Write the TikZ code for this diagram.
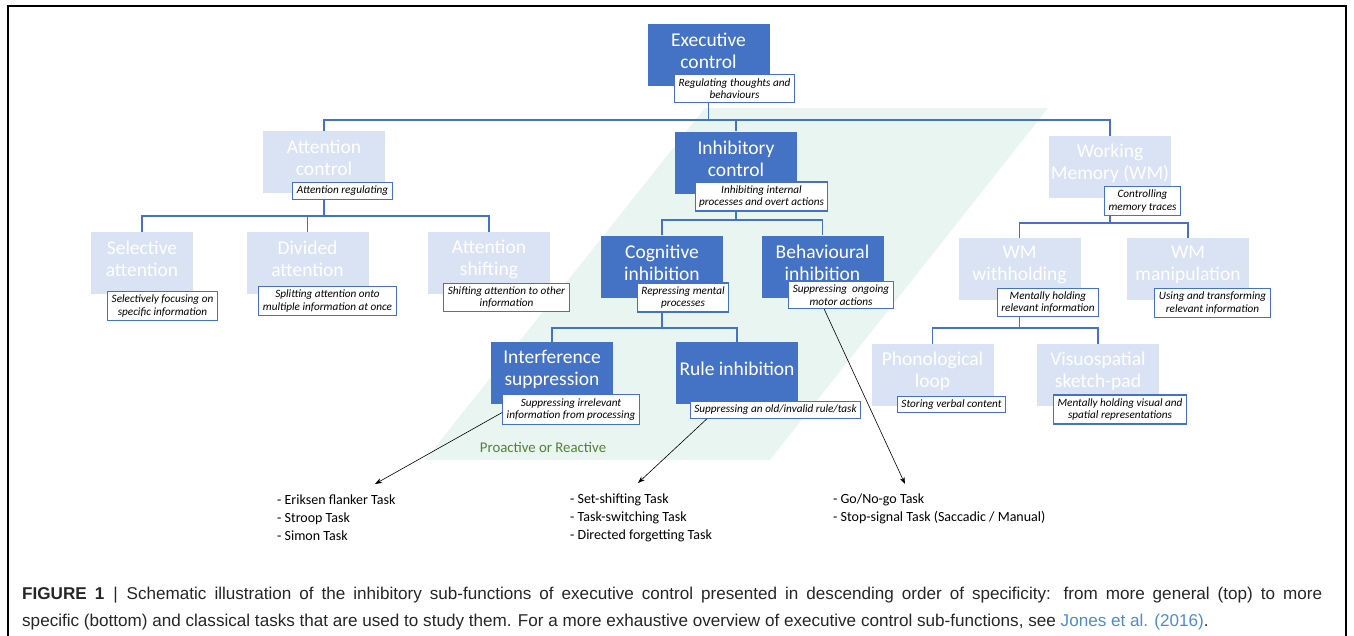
\documentclass[tikz,border=0pt]{standalone}
\usepackage{fontspec}
\setmainfont{Carlito}
\newfontfamily\capfont{Liberation Sans}
\usetikzlibrary{arrows.meta}

\definecolor{ecblue}{RGB}{68,114,196}
\definecolor{ecpale}{RGB}{218,227,243}
\definecolor{ecmint}{RGB}{232,245,240}
\definecolor{ecgreen}{RGB}{84,130,53}
\definecolor{eclink}{RGB}{77,140,199}

\tikzset{
  darkbox/.style={fill=ecblue, minimum width=122pt, minimum height=62pt, inner sep=0},
  palebox/.style={darkbox, fill=ecpale},
  boxtitle/.style={text=white, align=center, font=\fontsize{19.5}{22}\selectfont, inner sep=0},
  notebox/.style={draw=ecblue, line width=1.1pt, fill=white, align=center,
    font=\fontsize{11.2}{12.5}\selectfont\itshape, inner xsep=4pt, inner ysep=3.5pt},
  tree/.style={draw=ecblue, line width=1.1pt},
  pointer/.style={-{Stealth[length=7pt,width=5pt]}, line width=0.6pt},
  tasklist/.style={align=left, anchor=north west, inner sep=0, font=\fontsize{14}{18}\selectfont},
  captext/.style={anchor=base west, inner sep=0, text=black!85, font=\capfont\fontsize{17.1}{20}\selectfont},
}

\begin{document}
\begin{tikzpicture}[x=1pt,y=-1pt]
    \useasboundingbox (0,0) rectangle (1354,635);
    \draw[line width=1.2pt] (8,640) -- (8,6) -- (1346,6) -- (1346,640);

    % green band behind the inhibition branch
    \fill[ecmint] (705,108) -- (1048,108) -- (770,460) -- (425,460) -- cycle;

    % boxes
    \node[darkbox] (exec) at (708.5,55) {};
    \node[palebox] (attn) at (324,162) {};
    \node[darkbox] (inh) at (736,162.5) {};
    \node[palebox] (wm) at (1110,167) {};
    \node[palebox, minimum width=102pt] (sel) at (142,263) {};
    \node[palebox] (div) at (307.5,263) {};
    \node[palebox] (attshift) at (489,263) {};
    \node[darkbox] (cog) at (662,266.5) {};
    \node[darkbox] (beh) at (822.5,266.5) {};
    \node[darkbox] (intf) at (552,373) {};
    \node[darkbox] (rule) at (737,373) {};
    \node[palebox] (wmw) at (1019.5,269) {};
    \node[palebox] (wmm) at (1188,269) {};
    \node[palebox] (phon) at (932.5,375) {};
    \node[palebox] (visu) at (1098,375) {};

    \node[boxtitle] (execT) at ([yshift=4pt]exec.center) {Executive\\control};
    \node[boxtitle] (attnT) at ([yshift=4pt]attn.center) {Attention\\control};
    \node[boxtitle] (inhT) at ([yshift=4pt]inh.center) {Inhibitory\\control};
    \node[boxtitle] (wmT) at ([yshift=4pt]wm.center) {Working\\Memory (WM)};
    \node[boxtitle] (selT) at ([yshift=4pt]sel.center) {Selective\\attention};
    \node[boxtitle] (divT) at ([yshift=4pt]div.center) {Divided\\attention};
    \node[boxtitle] (attshiftT) at ([yshift=4pt]attshift.center) {Attention\\shifting};
    \node[boxtitle] (cogT) at ([yshift=4pt]cog.center) {Cognitive\\inhibition};
    \node[boxtitle] (behT) at ([yshift=4pt]beh.center) {Behavioural\\inhibition};
    \node[boxtitle] (intfT) at ([yshift=4pt]intf.center) {Interference\\suppression};
    \node[boxtitle] (ruleT) at ([yshift=4pt]rule.center) {Rule inhibition};
    \node[boxtitle] (wmwT) at ([yshift=4pt]wmw.center) {WM\\withholding};
    \node[boxtitle] (wmmT) at ([yshift=4pt]wmm.center) {WM\\manipulation};
    \node[boxtitle] (phonT) at ([yshift=4pt]phon.center) {Phonological\\loop};
    \node[boxtitle] (visuT) at ([yshift=4pt]visu.center) {Visuospatial\\sketch-pad};

    % notes under the titles
    \node[notebox] (execN) at (734.5,88.5) {Regulating thoughts and\\behaviours};
    \node[notebox] (attnN) at (342.5,191) {Attention regulating};
    \node[notebox] (inhN) at (761.5,196.5) {Inhibiting internal\\processes and overt actions};
    \node[notebox] (wmN) at (1142.5,201) {Controlling\\memory traces};
    \node[notebox] (selN) at (162.5,306) {Selectively focusing on\\specific information};
    \node[notebox] (divN) at (327.5,301) {Splitting attention onto\\multiple information at once};
    \node[notebox] (attshiftN) at (506.5,297.5) {Shifting attention to other\\information};
    \node[notebox] (cogN) at (683,297.5) {Repressing mental\\processes};
    \node[notebox] (behN) at (841,295) {Suppressing\ \ ongoing\\motor actions};
    \node[notebox] (intfN) at (571,409.5) {Suppressing irrelevant\\information from processing};
    \node[notebox] (ruleN) at (775.5,410) {Suppressing an old/invalid rule/task};
    \node[notebox] (wmwN) at (1048,302.5) {Mentally holding\\relevant information};
    \node[notebox] (wmmN) at (1212.5,303) {Using and transforming\\relevant information};
    \node[notebox] (phonN) at (951.5,404.5) {Storing verbal content};
    \node[notebox] (visuN) at (1120,409.5) {Mentally holding visual and\\spatial representations};

    % tree lines
    \coordinate (barA) at (0,120);
    \coordinate (barB) at (0,216);
    \coordinate (barC) at (0,220);
    \coordinate (barD) at (0,328);
    \coordinate (barE) at (0,223);
    \coordinate (barF) at (0,328);

    \draw[tree] (exec |- execN.south) -- (exec |- barA);
    \draw[tree] (attn.north) -- (attn |- barA) -- (wm |- barA) -- (wm.north);
    \draw[tree] (inh |- barA) -- (inh.north);

    \draw[tree] (attn |- attnN.south) -- (attn |- barB);
    \draw[tree] (sel.north) -- (sel |- barB) -- (attshift |- barB) -- (attshift.north);
    \draw[tree] (div |- barB) -- (div.north);

    \draw[tree] (inh |- inhN.south) -- (inh |- barC);
    \draw[tree] (cog.north) -- (cog |- barC) -- (beh |- barC) -- (beh.north);

    \draw[tree] (cog |- cogN.south) -- (cog |- barD);
    \draw[tree] (intf.north) -- (intf |- barD) -- (rule |- barD) -- (rule.north);

    \draw[tree] (wm |- wmN.south) -- (wm |- barE);
    \draw[tree] (wmw.north) -- (wmw |- barE) -- (wmm |- barE) -- (wmm.north);

    \draw[tree] (wmw |- wmwN.south) -- (wmw |- barF);
    \draw[tree] (phon.north) -- (phon |- barF) -- (visu |- barF) -- (visu.north);

    \node[text=ecgreen, font=\fontsize{14.8}{16}\selectfont] (proact) at (543,447) {Proactive or Reactive};

    % tasks
    \node[tasklist] (tasksA) at (277,495) {- Eriksen flanker Task\\- Stroop Task\\- Simon Task};
    \node[tasklist] (tasksB) at (570,494) {- Set-shifting Task\\- Task-switching Task\\- Directed forgetting Task};
    \node[tasklist] (tasksC) at (833,494) {- Go/No-go Task\\- Stop-signal Task (Saccadic / Manual)};

    \coordinate (tipA) at (375,484);
    \coordinate (tipB) at (638,483);
    \coordinate (tipC) at (905,484);
    \draw[pointer] ([yshift=-3pt]intfN.west) -- (tipA);
    \draw[pointer] ([xshift=17pt]ruleN.south west) -- (tipB);
    \draw[pointer] ([xshift=36pt]behN.south west) -- (tipC);

    % caption
    \node[captext] (capA) at (22,599) {\makebox[1300pt][s]{\textbf{FIGURE 1}\hspace{9pt}|\hspace{9pt}Schematic illustration of the inhibitory sub-functions of executive control presented in descending order of specificity: from more general (top) to more}};
    \node[captext] (capB) at (22,626) {specific (bottom) and classical tasks that are used to study them. For a more exhaustive overview of executive control sub-functions, see \textcolor{eclink}{Jones et al. (2016)}.};
\end{tikzpicture}
\end{document}
